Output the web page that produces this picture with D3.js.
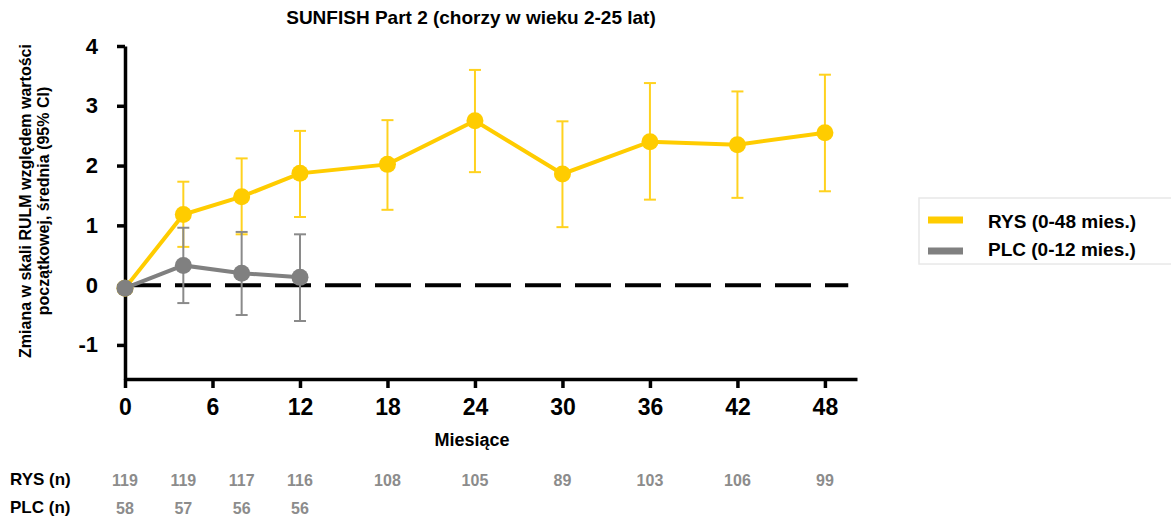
<!DOCTYPE html>
<meta charset="utf-8">
<style>
body { margin: 0; background: #fff; }
svg text { font-family: "Liberation Sans", Arial, sans-serif; font-weight: bold; }
.axis path, .axis line { stroke: #000; stroke-width: 3.5; fill: none; }
.axis text { fill: #000; }
</style>
<body>
<script src="https://d3js.org/d3.v7.min.js"></script>
<script>

var months = [0, 4, 8, 12, 18, 24, 30, 36, 42, 48];
var rysMean = [-0.05, 1.18, 1.48, 1.87, 2.02, 2.75, 1.86, 2.40, 2.35, 2.55];
var rysLow  = [-0.05, 0.64, 0.85, 1.14, 1.26, 1.89, 0.97, 1.43, 1.46, 1.57];
var rysHigh = [-0.05, 1.73, 2.12, 2.58, 2.76, 3.60, 2.74, 3.38, 3.24, 3.52];

var plcMonths = [0, 4, 8, 12];
var plcMean = [-0.05, 0.33, 0.20, 0.13];
var plcLow  = [-0.05, -0.30, -0.50, -0.60];
var plcHigh = [-0.05, 0.96, 0.89, 0.85];

var rysN = [119, 119, 117, 116, 108, 105, 89, 103, 106, 99];
var plcN = [58, 57, 56, 56];

var xTicks = [0, 6, 12, 18, 24, 30, 36, 42, 48];
var yTicks = [-1, 0, 1, 2, 3, 4];

var yellow = "#ffcc00", grey = "#808080";

var svg = d3.select("body").append("svg")
    .attr("width", 1171)
    .attr("height", 521);

var x = d3.scaleLinear().domain([0, 50.2]).range([125, 857]);
var y = d3.scaleLinear().domain([-1.57, 4]).range([379, 46]);

// title
svg.append("text")
  .attr("x", 471).attr("y", 24)
  .attr("text-anchor", "middle")
  .style("font-size", "19px")
  .text("SUNFISH Part 2 (chorzy w wieku 2-25 lat)");

// y axis title (two lines)
var yt = svg.append("text")
  .attr("transform", "translate(31,201) rotate(-90)")
  .attr("text-anchor", "middle")
  .style("font-size", "16px");
yt.append("tspan").attr("x", 0).attr("y", 0).text("Zmiana w skali RULM względem wartości");
yt.append("tspan").attr("x", 0).attr("y", 18).text("początkowej, średnia (95% CI)");

// axes
svg.append("g").attr("class", "axis")
  .attr("transform", "translate(125,0)")
  .call(d3.axisLeft(y).tickValues(yTicks).tickSize(8).tickSizeOuter(0).tickPadding(19)
    .tickFormat(function(d) { return String(d); }))
  .selectAll("text").style("font-size", "22px");

svg.append("g").attr("class", "axis")
  .attr("transform", "translate(0,379)")
  .call(d3.axisBottom(x).tickValues(xTicks).tickSize(9).tickSizeOuter(0).tickPadding(11))
  .selectAll("text").style("font-size", "23px");

svg.append("text")
  .attr("x", 472).attr("y", 446)
  .attr("text-anchor", "middle")
  .style("font-size", "18px")
  .text("Miesiące");

// zero reference line
svg.append("line")
  .attr("x1", x(0)).attr("x2", x(49.6))
  .attr("y1", y(0)).attr("y2", y(0))
  .attr("stroke", "#000")
  .attr("stroke-width", 4)
  .attr("stroke-dasharray", "36,14");

function drawSeries(t, mean, low, high, color, barColor) {
  var g = svg.append("g");
  var pts = t.map(function(d, i) { return {t: d, m: mean[i], lo: low[i], hi: high[i]}; });
  var bars = pts.filter(function(d) { return d.hi !== d.lo; });

  g.selectAll(".eb").data(bars).enter().append("line")
    .attr("x1", function(d) { return x(d.t); })
    .attr("x2", function(d) { return x(d.t); })
    .attr("y1", function(d) { return y(d.lo); })
    .attr("y2", function(d) { return y(d.hi); })
    .attr("stroke", barColor).attr("stroke-width", 2);

  ["lo", "hi"].forEach(function(k) {
    g.selectAll(".cap" + k).data(bars).enter().append("line")
      .attr("x1", function(d) { return x(d.t) - 6; })
      .attr("x2", function(d) { return x(d.t) + 6; })
      .attr("y1", function(d) { return y(d[k]); })
      .attr("y2", function(d) { return y(d[k]); })
      .attr("stroke", barColor).attr("stroke-width", 2);
  });

  g.append("path").datum(pts)
    .attr("fill", "none")
    .attr("stroke", color)
    .attr("stroke-width", 4)
    .attr("d", d3.line().x(function(d) { return x(d.t); }).y(function(d) { return y(d.m); }));

  g.selectAll("circle").data(pts).enter().append("circle")
    .attr("cx", function(d) { return x(d.t); })
    .attr("cy", function(d) { return y(d.m); })
    .attr("r", 8.5)
    .attr("fill", color);
}

drawSeries(months, rysMean, rysLow, rysHigh, yellow, "#ffd21f");
drawSeries(plcMonths, plcMean, plcLow, plcHigh, grey, "#8a8a8a");

// legend
var lg = svg.append("g");
lg.append("rect")
  .attr("x", 919).attr("y", 198).attr("width", 262).attr("height", 66)
  .attr("fill", "#fff").attr("stroke", "#e8e8e8").attr("stroke-width", 1.5);
[["RYS (0-48 mies.)", yellow, 220, 228], ["PLC (0-12 mies.)", grey, 251, 256]].forEach(function(l) {
  lg.append("line")
    .attr("x1", 928).attr("x2", 963)
    .attr("y1", l[2]).attr("y2", l[2])
    .attr("stroke", l[1]).attr("stroke-width", 7);
  lg.append("text")
    .attr("x", 988).attr("y", l[3])
    .style("font-size", "19px")
    .text(l[0]);
});

// numbers at risk
svg.append("text").attr("x", 10).attr("y", 485).style("font-size", "17px").text("RYS (n)");
svg.append("text").attr("x", 10).attr("y", 513).style("font-size", "17px").text("PLC (n)");

svg.selectAll(".nrys").data(rysN).enter().append("text")
  .attr("x", function(d, i) { return x(months[i]); })
  .attr("y", 486)
  .attr("text-anchor", "middle")
  .attr("fill", "#8c8c8c")
  .style("font-size", "16px")
  .text(function(d) { return d; });

svg.selectAll(".nplc").data(plcN).enter().append("text")
  .attr("x", function(d, i) { return x(plcMonths[i]); })
  .attr("y", 514)
  .attr("text-anchor", "middle")
  .attr("fill", "#8c8c8c")
  .style("font-size", "16px")
  .text(function(d) { return d; });

</script>
</body>
